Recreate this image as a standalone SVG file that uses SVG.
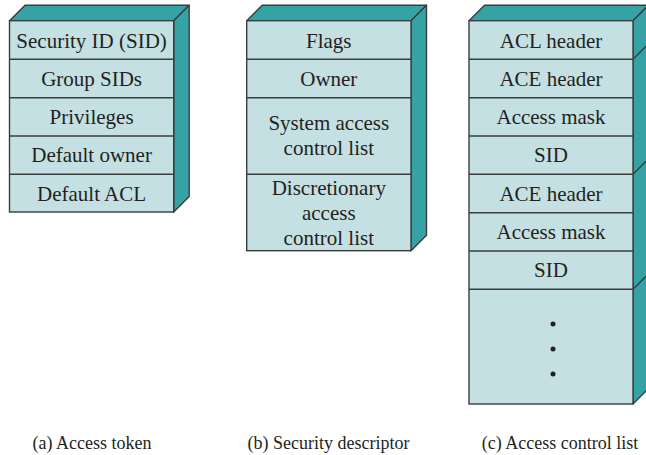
<svg xmlns="http://www.w3.org/2000/svg" width="646" height="455" viewBox="0 0 646 455">
<style>
.front{fill:#c5e0e3;stroke:#3c3c3c;stroke-width:1.4}
.side{fill:#35a2a5;stroke:#3c3c3c;stroke-width:1.4;stroke-linejoin:round}
.ln{stroke:#3c3c3c;stroke-width:1.4;fill:none}
.t{font-family:"Liberation Serif","Times New Roman",serif;font-size:21px;fill:#231f20;text-anchor:middle}
.cap{font-family:"Liberation Serif","Times New Roman",serif;font-size:18px;fill:#231f20;text-anchor:middle}
.dot{fill:#231f20}
</style>
<rect width="646" height="455" fill="#ffffff"/>
<g id="access-token">
<polygon class="side" points="9.5,20.7 25,5.2 189.2,5.2 173.7,20.7"/>
<polygon class="side" points="173.7,20.7 189.2,5.2 189.2,196.5 173.7,212"/>
<rect class="front" x="9.5" y="20.7" width="164.2" height="191.3"/>
<line class="ln" x1="9.5" y1="59.3" x2="173.7" y2="59.3"/>
<line class="ln" x1="9.5" y1="97.7" x2="173.7" y2="97.7"/>
<line class="ln" x1="9.5" y1="136" x2="173.7" y2="136"/>
<line class="ln" x1="9.5" y1="174.3" x2="173.7" y2="174.3"/>
<text class="t" x="91.6" y="47.5">Security ID (SID)</text>
<text class="t" x="91.6" y="85.8">Group SIDs</text>
<text class="t" x="91.6" y="124.1">Privileges</text>
<text class="t" x="91.6" y="162.4">Default owner</text>
<text class="t" x="91.6" y="200.7">Default ACL</text>
</g>
<g id="security-descriptor">
<polygon class="side" points="246.7,20.7 262.2,5.2 426.5,5.2 411,20.7"/>
<polygon class="side" points="411,20.7 426.5,5.2 426.5,235.2 411,250.7"/>
<rect class="front" x="246.7" y="20.7" width="164.3" height="230"/>
<line class="ln" x1="246.7" y1="59.3" x2="411" y2="59.3"/>
<line class="ln" x1="246.7" y1="97.7" x2="411" y2="97.7"/>
<line class="ln" x1="246.7" y1="174.3" x2="411" y2="174.3"/>
<text class="t" x="328.8" y="47.5">Flags</text>
<text class="t" x="328.8" y="85.8">Owner</text>
<text class="t" x="328.8" y="129.5">System access</text>
<text class="t" x="328.8" y="154.5">control list</text>
<text class="t" x="328.8" y="194.5">Discretionary</text>
<text class="t" x="328.8" y="219.8">access</text>
<text class="t" x="328.8" y="245">control list</text>
</g>
<g id="access-control-list">
<polygon class="side" points="469,20.7 484.5,5.2 648.5,5.2 633,20.7"/>
<polygon class="side" points="633,20.7 648.5,5.2 648.5,388.5 633,404"/>
<line class="ln" x1="633" y1="59.3" x2="648.5" y2="43.8"/>
<line class="ln" x1="633" y1="174.3" x2="648.5" y2="158.8"/>
<line class="ln" x1="633" y1="289.3" x2="648.5" y2="273.8"/>
<rect class="front" x="469" y="20.7" width="164" height="383.3"/>
<line class="ln" x1="469" y1="59.3" x2="633" y2="59.3"/>
<line class="ln" x1="469" y1="97.7" x2="633" y2="97.7"/>
<line class="ln" x1="469" y1="136" x2="633" y2="136"/>
<line class="ln" x1="469" y1="174.3" x2="633" y2="174.3"/>
<line class="ln" x1="469" y1="212.7" x2="633" y2="212.7"/>
<line class="ln" x1="469" y1="251" x2="633" y2="251"/>
<line class="ln" x1="469" y1="289.3" x2="633" y2="289.3"/>
<text class="t" x="551" y="47.5">ACL header</text>
<text class="t" x="551" y="85.8">ACE header</text>
<text class="t" x="551" y="124.1">Access mask</text>
<text class="t" x="551" y="162.4">SID</text>
<text class="t" x="551" y="200.7">ACE header</text>
<text class="t" x="551" y="239">Access mask</text>
<text class="t" x="551" y="277.3">SID</text>
<circle class="dot" cx="553" cy="324" r="2.5"/>
<circle class="dot" cx="553" cy="349" r="2.5"/>
<circle class="dot" cx="553" cy="374" r="2.5"/>
</g>
<g id="captions">
<text class="cap" x="92" y="449">(a) Access token</text>
<text class="cap" x="328.5" y="449">(b) Security descriptor</text>
<text class="cap" x="560" y="449">(c) Access control list</text>
</g>
</svg>
